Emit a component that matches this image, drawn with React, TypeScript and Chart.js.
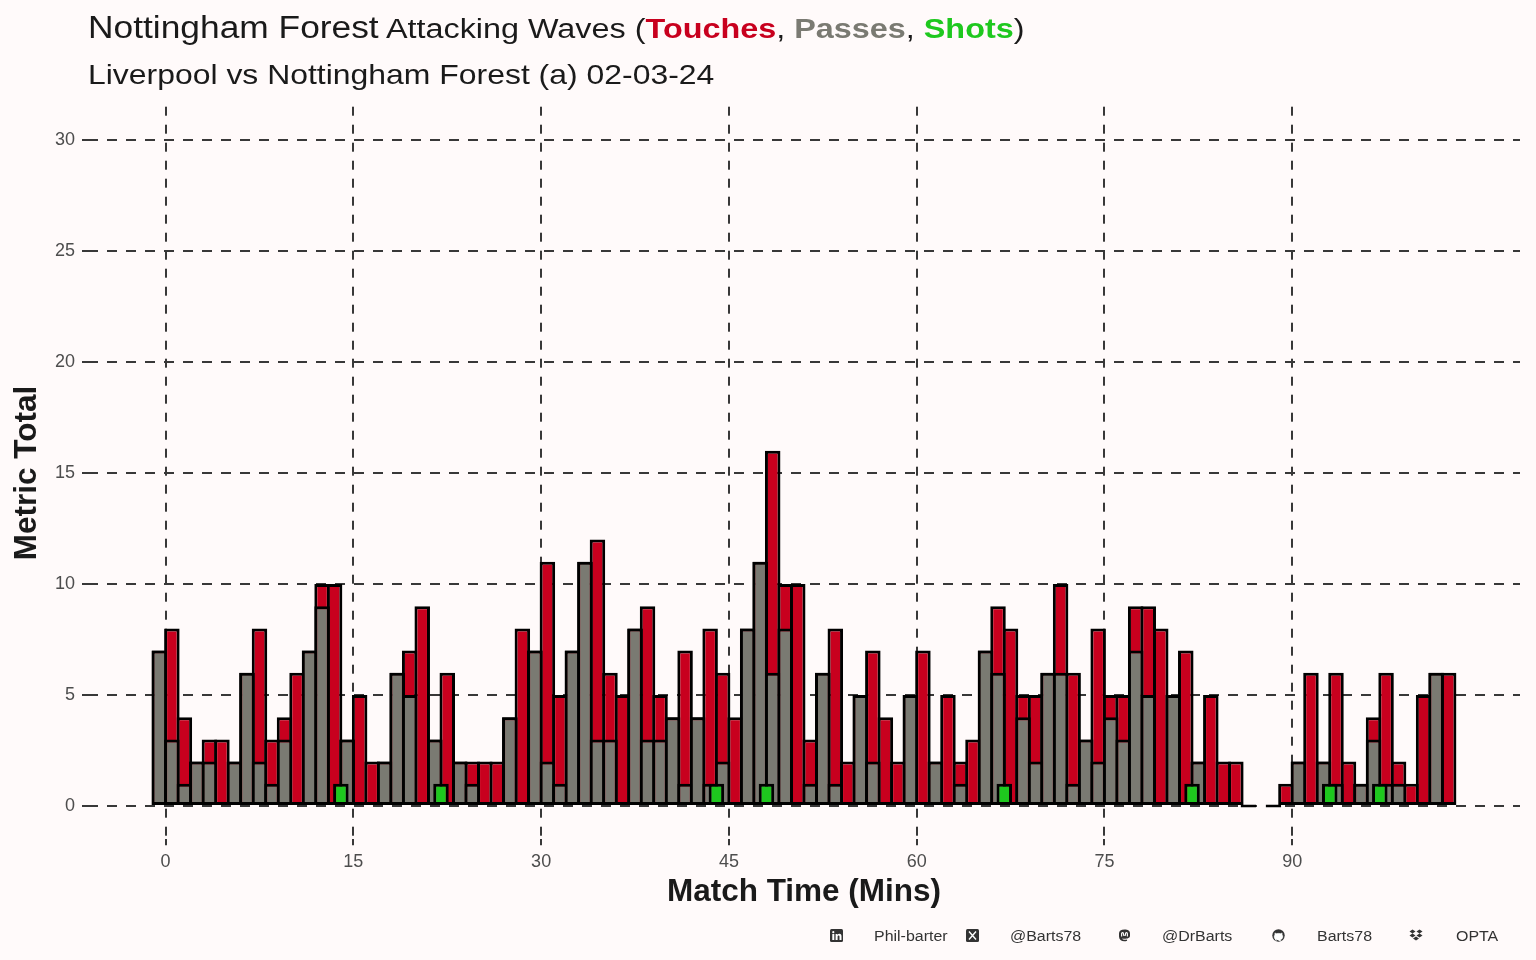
import React, { useEffect, useRef } from "react";
import { Chart, registerables } from "chart.js";

Chart.register(...registerables);

// ---- data ----
const minutes = [
  -1, 0, 1, 2, 3, 4, 5, 6, 7, 8, 9, 10, 11, 12, 13, 14, 15, 16, 17, 18, 19, 20,
  21, 22, 23, 24, 25, 26, 27, 28, 29, 30, 31, 32, 33, 34, 35, 36, 37, 38, 39, 40,
  41, 42, 43, 44, 45, 46, 47, 48, 49, 50, 51, 52, 53, 54, 55, 56, 57, 58, 59, 60,
  61, 62, 63, 64, 65, 66, 67, 68, 69, 70, 71, 72, 73, 74, 75, 76, 77, 78, 79, 80,
  81, 82, 83, 84, 85, 86, 87, 88, 89, 90, 91, 92, 93, 94, 95, 96, 97, 98, 99, 100,
  101, 102,
];

const touches: (number | null)[] = [
  7, 8, 4, 2, 3, 3, 2, 6, 8, 3, 4, 6, 7, 10, 10, 3, 5, 2, 2, 6, 7, 9,
  3, 6, 2, 2, 2, 2, 4, 8, 7, 11, 5, 7, 11, 12, 6, 5, 8, 9, 5, 4,
  7, 4, 8, 6, 4, 8, 11, 16, 10, 10, 3, 6, 8, 2, 5, 7, 4, 2, 5, 7,
  2, 5, 2, 3, 7, 9, 8, 5, 5, 6, 10, 6, 3, 8, 5, 5, 9, 9, 8, 5,
  7, 2, 5, 2, 2, 0, null, 0, 1, 2, 6, 2, 6, 2, 1, 4, 6, 2, 1, 5,
  6, 6,
];

const passes: (number | null)[] = [
  7, 3, 1, 2, 2, 0, 2, 6, 2, 1, 3, 0, 7, 9, 0, 3, 0, 0, 2, 6, 5, 0,
  3, 0, 2, 1, 0, 0, 4, 0, 7, 2, 1, 7, 11, 3, 3, 0, 8, 3, 3, 4,
  1, 4, 1, 2, 0, 8, 11, 6, 8, 0, 1, 6, 1, 0, 5, 2, 0, 0, 5, 0,
  2, 0, 1, 0, 7, 6, 0, 4, 2, 6, 6, 1, 3, 2, 4, 3, 7, 5, 0, 5,
  0, 2, 0, 0, 0, 0, null, 0, 0, 2, 0, 2, 1, 0, 1, 3, 1, 1, 0, 0,
  6, 0,
];

const shotMinutes = [14, 22, 44, 48, 67, 82, 93, 97];
const shotValues = [1, 1, 1, 1, 1, 1, 1, 1];

const xTickValues = [0, 15, 30, 45, 60, 75, 90];
const yTickValues = [0, 5, 10, 15, 20, 25, 30];

const footerItems = ["Phil-barter", "@Barts78", "@DrBarts", "Barts78", "OPTA"];

// ---- styles ----
const BG = "#FFFAFA";
const RED = "#C8001E";
const GREY = "#7A7A72";
const GREEN = "#1EC81E";
const GRID = "#383838";
const FONT = "'Liberation Sans', Arial, Helvetica, sans-serif";

function Icon({ kind }: { kind: string }) {
  const c = "#333";
  if (kind === "linkedin")
    return (
      <svg width="13" height="13" viewBox="0 0 13 13">
        <rect x="0" y="0" width="13" height="13" rx="1.5" fill={c} />
        <rect x="2.3" y="5" width="2" height="6" fill="#fff" />
        <circle cx="3.3" cy="3.2" r="1.1" fill="#fff" />
        <path d="M5.6 5h1.9v0.9c0.4-0.7 1.1-1.1 2-1.1c1.4 0 2 0.9 2 2.4V11H9.5V7.6c0-0.8-0.3-1.2-0.9-1.2c-0.7 0-1 0.5-1 1.3V11H5.6z" fill="#fff" />
      </svg>
    );
  if (kind === "x")
    return (
      <svg width="13" height="13" viewBox="0 0 13 13">
        <rect x="0" y="0" width="13" height="13" rx="1.5" fill={c} />
        <path d="M3 2.5L10 10.5M10 2.5L3 10.5" stroke="#fff" strokeWidth="1.4" />
      </svg>
    );
  if (kind === "mastodon")
    return (
      <svg width="13" height="13" viewBox="0 0 13 13">
        <path d="M6.5 0.5C3 0.5 1 1.6 1 4.5v3c0 3 2.2 4.6 5.3 4.8c1 0 2-0.1 2.8-0.5l-0.1-1.2c-1.6 0.4-4.6 0.5-4.7-1.1c2.2 0.5 7.7 0.6 7.7-2.7V4.5C12 1.6 10 0.5 6.5 0.5z" fill={c} />
        <path d="M3.6 7.5V4.7c0-1.4 1.900-1.4 1.9 0v1.5h2V4.7c0-1.4 1.9-1.4 1.9 0v2.8" stroke="#fff" strokeWidth="1.1" fill="none" />
      </svg>
    );
  if (kind === "github")
    return (
      <svg width="13" height="13" viewBox="0 0 13 13">
        <circle cx="6.5" cy="6.5" r="6.2" fill={c} />
        <path d="M4.3 12.4v-2c-1.2 0.2-1.6-0.6-1.8-1.1M4.3 10.4c-1.5-0.3-2.2-1.3-2.2-3c0-0.7 0.3-1.3 0.7-1.7c-0.1-0.4-0.2-1.1 0.1-1.8c0.6 0 1.2 0.3 1.6 0.7c0.6-0.2 1.3-0.3 2-0.3s1.4 0.1 2 0.3c0.4-0.4 1-0.7 1.6-0.7c0.3 0.7 0.2 1.4 0.1 1.8c0.4 0.4 0.7 1 0.7 1.7c0 1.7-0.7 2.7-2.2 3v2" fill="#fff" stroke="#fff" strokeWidth="0.3" />
      </svg>
    );
  return (
    <svg width="14" height="13" viewBox="0 0 14 13">
      <path d="M3.5 0.5L0.5 2.5L3.5 4.5L6.5 2.5z M10.5 0.5L7.5 2.5L10.5 4.5L13.5 2.5z M3.5 4.5L0.5 6.5L3.5 8.5L6.5 6.5z M10.5 4.5L7.5 6.5L10.5 8.5L13.5 6.5z M7 7.5L4 9.5L7 11.5L10 9.5z" fill={c} />
    </svg>
  );
}

export default function App() {
  const canvasRef = useRef<HTMLCanvasElement | null>(null);

  useEffect(() => {
    document.body.style.margin = "0";
    document.body.style.background = BG;
    const canvas = canvasRef.current;
    if (!canvas) return;

    const touchData = minutes.map((m, i) => ({ x: m + 0.5, y: touches[i] }));
    const passData = minutes.map((m, i) => ({
      x: m + 0.5,
      y: passes[i] && (passes[i] as number) > 0 ? passes[i] : null,
    }));
    const shotData = minutes.map((m) => {
      const k = shotMinutes.indexOf(m);
      return { x: m, y: k >= 0 ? shotValues[k] : null };
    });

    const common = {
      borderColor: "#000000",
      borderWidth: 3,
      borderSkipped: false as const,
      grouped: false,
      barPercentage: 1.24,
      categoryPercentage: 1,
    };

    const chart = new Chart(canvas, {
      type: "bar",
      data: {
        datasets: [
          {
            label: "Shots",
            data: shotData as any,
            backgroundColor: GREEN,
            xAxisID: "x2",
            order: 1,
            ...common,
          },
          {
            label: "Passes",
            data: passData as any,
            backgroundColor: GREY,
            xAxisID: "x",
            order: 2,
            ...common,
          },
          {
            label: "Touches",
            data: touchData as any,
            backgroundColor: RED,
            xAxisID: "x",
            order: 3,
            minBarLength: 3,
            ...common,
          },
        ],
      },
      options: {
        responsive: false,
        animation: false,
        events: [],
        layout: { padding: { top: 106.7, right: 16, bottom: 0, left: 0 } },
        plugins: {
          legend: { display: false },
          tooltip: { enabled: false },
          title: { display: false },
        },
        scales: {
          x: {
            type: "linear",
            position: "bottom",
            offset: false,
            min: -6.2,
            max: 108.2,
            afterBuildTicks: (s: any) => {
              s.ticks = xTickValues.map((v) => ({ value: v }));
            },
            afterFit: (s: any) => {
              s.height = 120.7;
            },
            ticks: {
              font: { family: FONT, size: 18 },
              color: "#4D4D4D",
              padding: 6,
              maxRotation: 0,
              autoSkip: false,
            },
            grid: {
              offset: false,
              color: GRID,
              lineWidth: 2,
              tickLength: 6,
              tickColor: GRID,
              tickWidth: 2,
              tickBorderDash: [],
            },
            border: { display: false, dash: [9, 9] },
            title: {
              display: true,
              text: "Match Time (Mins)",
              font: { family: FONT, size: 31.5, weight: "bold" },
              color: "#1A1A1A",
              padding: { top: 0, bottom: 49 },
            },
          },
          x2: {
            type: "linear",
            axis: "x",
            position: "bottom",
            display: false,
            offset: false,
            grid: { offset: false },
            min: -6.2,
            max: 108.2,
          },
          y: {
            type: "linear",
            min: -1.5,
            max: 31.5,
            afterBuildTicks: (s: any) => {
              s.ticks = yTickValues.map((v) => ({ value: v }));
            },
            afterFit: (s: any) => {
              s.width = 88;
            },
            ticks: {
              font: { family: FONT, size: 18 },
              color: "#4D4D4D",
              padding: 7,
            },
            grid: {
              color: GRID,
              lineWidth: 2,
              tickLength: 6,
              tickColor: GRID,
              tickWidth: 2,
              tickBorderDash: [],
            },
            border: { display: false, dash: [10, 9] },
            title: {
              display: true,
              text: "Metric Total",
              font: { family: FONT, size: 31.5, weight: "bold" },
              color: "#1A1A1A",
              padding: { top: 8, bottom: 0 },
            },
          },
        },
      } as any,
    });

    return () => {
      chart.destroy();
    };
  }, []);

  const footerLeft = [
    { icon: "linkedin", iconX: 830, textX: 874 },
    { icon: "x", iconX: 966, textX: 1010 },
    { icon: "mastodon", iconX: 1118, textX: 1162 },
    { icon: "github", iconX: 1272, textX: 1317 },
    { icon: "dropbox", iconX: 1409, textX: 1456 },
  ];

  const stretch: React.CSSProperties = {
    position: "absolute",
    transform: "scaleX(1.14)",
    transformOrigin: "left center",
    whiteSpace: "nowrap",
    fontFamily: FONT,
    color: "#1A1A1A",
  };

  return (
    <div
      style={{
        position: "fixed",
        left: 0,
        top: 0,
        width: 1536,
        height: 960,
        background: BG,
        overflow: "hidden",
      }}
    >
      <canvas
        ref={canvasRef}
        width={1536}
        height={960}
        style={{ position: "absolute", left: 0, top: 0, width: 1536, height: 960 }}
      />
      <div style={{ ...stretch, left: 88, top: 12.2, fontSize: 31, lineHeight: 1 }}>
        <span>Nottingham Forest</span>
        <span style={{ fontSize: 28.4, lineHeight: 1 }}>
          {" Attacking Waves ("}
          <b style={{ color: RED }}>Touches</b>
          {", "}
          <b style={{ color: GREY }}>Passes</b>
          {", "}
          <b style={{ color: GREEN }}>Shots</b>
          {")"}
        </span>
      </div>
      <div style={{ ...stretch, left: 88, top: 61.3, fontSize: 28, lineHeight: 1 }}>
        Liverpool vs Nottingham Forest (a) 02-03-24
      </div>
      {footerLeft.map((f, i) => (
        <React.Fragment key={i}>
          <div style={{ position: "absolute", left: f.iconX, top: 929, width: 14, height: 13, lineHeight: 0 }}>
            <Icon kind={f.icon} />
          </div>
          <div
            style={{
              ...stretch,
              left: f.textX,
              top: 928,
              fontSize: 14,
              lineHeight: "16px",
              color: "#333333",
            }}
          >
            {footerItems[i]}
          </div>
        </React.Fragment>
      ))}
    </div>
  );
}
